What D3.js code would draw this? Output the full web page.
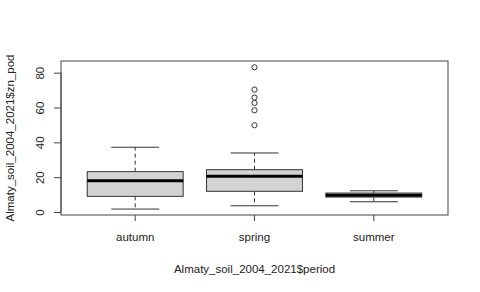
<!DOCTYPE html>
<html>
<head>
<meta charset="utf-8">
<script src="https://cdn.jsdelivr.net/npm/d3@7"></script>
<style>
  body { margin: 0; background: #fff; }
  text { font-family: "Liberation Sans", Arial, sans-serif; fill: #222; }
</style>
</head>
<body>
<div id="chart"></div>
<script>
// five-number summaries
var periods = ['autumn', 'spring', 'summer'];
var lowerWhisker = [1.7, 3.6, 5.9];
var lowerQuart = [9.0, 11.9, 8.6];
var medians = [18.0, 20.5, 9.6];
var upperQuart = [23.2, 24.3, 10.9];
var upperWhisker = [37.2, 33.9, 12.2];
var outliers = [[], [49.8, 58.4, 62.6, 65.7, 70.3, 83.1], []];
var yTicks = [0, 20, 40, 60, 80];

var width = 480, height = 292;
var margin = {top: 61, right: 32, bottom: 77, left: 61};

var svg = d3.select('#chart').append('svg')
    .attr('width', width).attr('height', height);

var plotW = width - margin.left - margin.right;
var plotH = height - margin.top - margin.bottom;

var g = svg.append('g')
    .attr('transform', 'translate(' + margin.left + ',' + margin.top + ')');

// like R: boxes at 1..n, xlim n+-0.5 plus 4% each side
var x = d3.scaleBand()
    .domain(periods)
    .range([0, plotW])
    .paddingInner(0.196)
    .paddingOuter(0.22);

var y = d3.scaleLinear()
    .domain([-1.7, 86.7])
    .range([plotH, 0]);

var stroke = '#333';

var boxes = g.selectAll('.box')
    .data(periods)
    .enter().append('g')
    .attr('class', 'box');

boxes.each(function(p, i) {
    var sel = d3.select(this);
    var cx = x(p) + x.bandwidth() / 2;
    var bw = x.bandwidth();
    // whiskers
    sel.append('line')
        .attr('x1', cx).attr('x2', cx)
        .attr('y1', y(upperQuart[i])).attr('y2', y(upperWhisker[i]))
        .attr('stroke', stroke).attr('stroke-dasharray', '4,3');
    sel.append('line')
        .attr('x1', cx).attr('x2', cx)
        .attr('y1', y(lowerQuart[i])).attr('y2', y(lowerWhisker[i]))
        .attr('stroke', stroke).attr('stroke-dasharray', '4,3');
    [upperWhisker[i], lowerWhisker[i]].forEach(function(v) {
        sel.append('line')
            .attr('x1', cx - bw / 4).attr('x2', cx + bw / 4)
            .attr('y1', y(v)).attr('y2', y(v))
            .attr('stroke', stroke);
    });
    sel.append('rect')
        .attr('x', x(p))
        .attr('y', y(upperQuart[i]))
        .attr('width', bw)
        .attr('height', y(lowerQuart[i]) - y(upperQuart[i]))
        .attr('fill', '#d3d3d3')
        .attr('stroke', stroke);
    sel.append('line')
        .attr('x1', x(p)).attr('x2', x(p) + bw)
        .attr('y1', y(medians[i])).attr('y2', y(medians[i]))
        .attr('stroke', '#000').attr('stroke-width', 3);
    sel.selectAll('circle')
        .data(outliers[i])
        .enter().append('circle')
        .attr('cx', cx)
        .attr('cy', function(d) { return y(d); })
        .attr('r', 2.6)
        .attr('fill', 'none')
        .attr('stroke', stroke);
});

// frame
g.append('rect')
    .attr('width', plotW).attr('height', plotH)
    .attr('fill', 'none').attr('stroke', '#444');

// y axis
var yAxis = g.append('g')
    .call(d3.axisLeft(y).tickValues(yTicks).tickSize(7));
yAxis.select('.domain')
    .attr('d', 'M0,' + y(0) + 'V' + y(80))
    .attr('stroke', '#444');
yAxis.selectAll('.tick line').attr('stroke', '#444');
yAxis.selectAll('.tick text')
    .attr('font-size', 11.5)
    .attr('fill', '#222')
    .attr('x', null)
    .attr('dy', '0.35em')
    .attr('text-anchor', 'middle')
    .attr('transform', 'translate(-21,0) rotate(-90)');

// x axis
var xAxis = g.append('g')
    .attr('transform', 'translate(0,' + plotH + ')')
    .call(d3.axisBottom(x).tickSize(6).tickPadding(12));
xAxis.select('.domain').remove();
xAxis.selectAll('.tick line').attr('stroke', '#444');
xAxis.selectAll('.tick text')
    .attr('font-size', 11.5)
    .attr('fill', '#222');

// axis titles
svg.append('text')
    .attr('x', margin.left + plotW / 2)
    .attr('y', 273)
    .attr('text-anchor', 'middle')
    .attr('font-size', 11.5)
    .text('Almaty_soil_2004_2021$period');

svg.append('text')
    .attr('transform', 'translate(14,' + (margin.top + plotH / 2) + ') rotate(-90)')
    .attr('text-anchor', 'middle')
    .attr('font-size', 11.5)
    .text('Almaty_soil_2004_2021$zn_pod');
</script>
</body>
</html>
